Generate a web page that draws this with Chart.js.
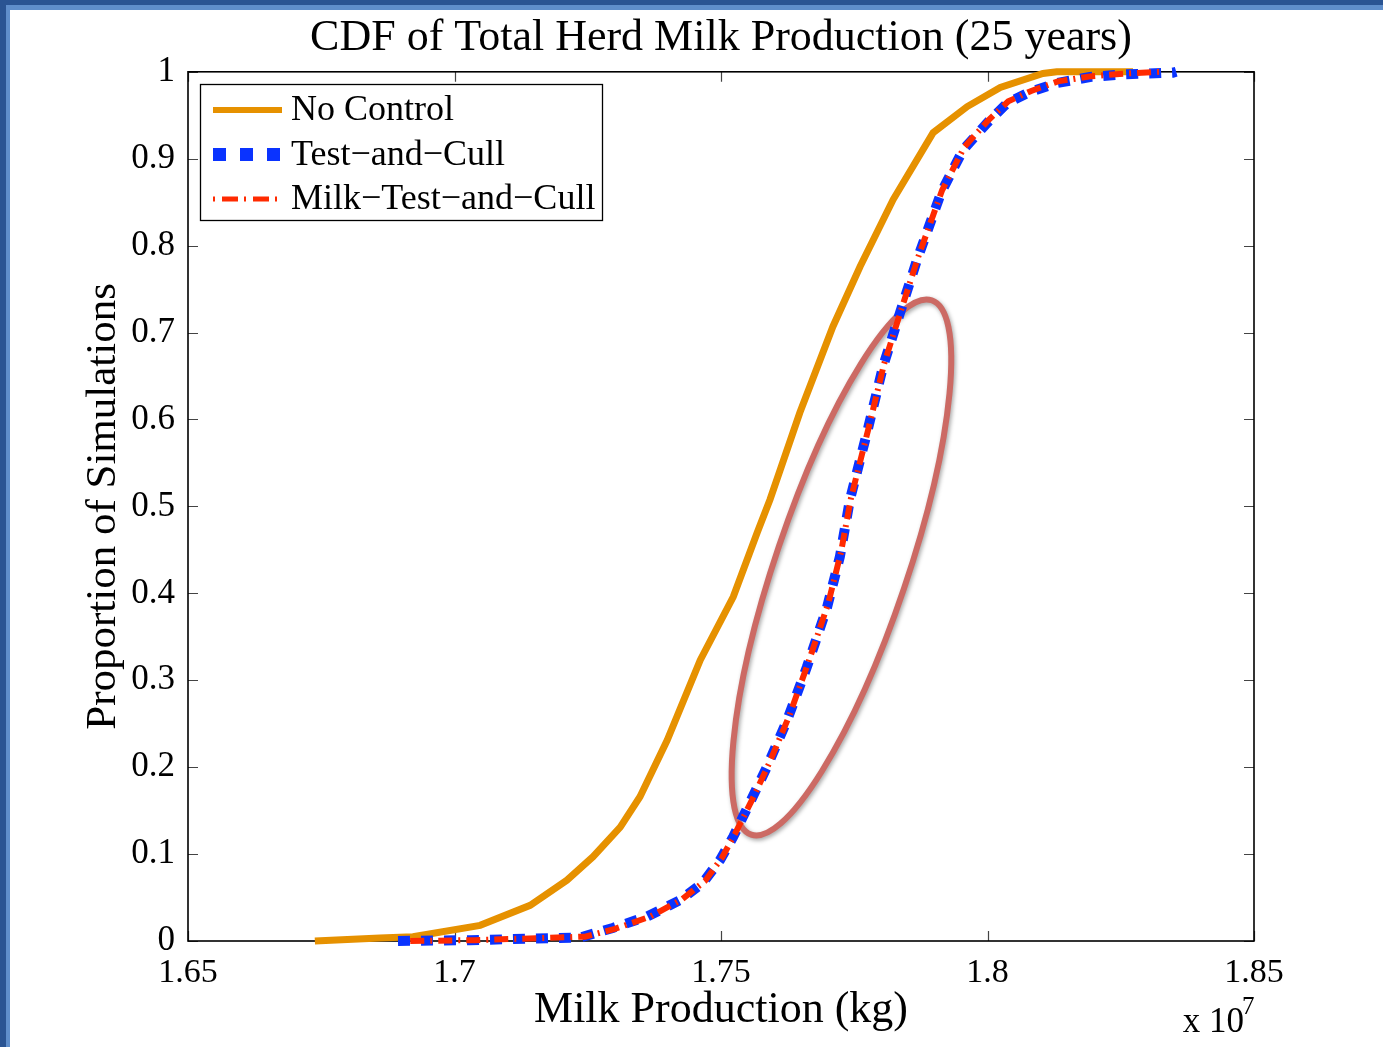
<!DOCTYPE html>
<html>
<head>
<meta charset="utf-8">
<title>CDF of Total Herd Milk Production</title>
<script src="https://cdn.jsdelivr.net/npm/chart.js@4.4.0/dist/chart.umd.min.js"></script>
<style>
  html, body { margin: 0; padding: 0; background: #fff; }
  #wrap { position: relative; width: 1383px; height: 1047px; overflow: hidden; background: #fff; }
  #chart { position: absolute; left: 0; top: 0; }
  .frame { position: absolute; left: 0; top: 0; width: 1500px; height: 1200px; box-sizing: border-box;
           border-left: 6px solid #2a5493; border-top: 5px solid #2a5493; pointer-events: none; }
  .frame-inner { position: absolute; left: 0; top: 0; width: 1500px; height: 1200px; box-sizing: border-box;
           border-left: 4px solid #5f8ecb; border-top: 5px solid #5f8ecb; }
</style>
</head>
<body>
<div id="wrap">
  <canvas id="chart" width="1383" height="1047"></canvas>
  <div class="frame"><div class="frame-inner"></div></div>
</div>
<script>
// x values are in units of 10^7 kg, y is the cumulative proportion
const noControlX = [1.6738, 1.6860, 1.6922, 1.7048, 1.7142, 1.7211, 1.7260, 1.7311, 1.7348, 1.7399,
                    1.7461, 1.7523, 1.7568, 1.7592, 1.7648, 1.7710, 1.7761, 1.7823, 1.7898, 1.7962,
                    1.8024, 1.8104, 1.8130, 1.8273];
const noControlY = [0.000, 0.0035, 0.005, 0.018, 0.041, 0.070, 0.097, 0.131, 0.166, 0.231,
                    0.323, 0.396, 0.470, 0.508, 0.608, 0.707, 0.776, 0.853, 0.930, 0.960,
                    0.982, 0.998, 1.000, 1.000];

const testCullX = [1.6894, 1.7029, 1.7236, 1.7297, 1.7361, 1.7423, 1.7466, 1.7498, 1.7523, 1.7554,
                   1.7586, 1.7624, 1.7661, 1.7699, 1.7723, 1.7742, 1.7774, 1.7804, 1.7836, 1.7868,
                   1.7913, 1.7954, 1.7999, 1.8037, 1.8080, 1.8130, 1.8192, 1.8254, 1.8348, 1.8354];
const testCullY = [0.000, 0.001, 0.004, 0.015, 0.028, 0.047, 0.067, 0.093, 0.120, 0.159,
                   0.200, 0.254, 0.315, 0.384, 0.442, 0.508, 0.585, 0.661, 0.723, 0.784,
                   0.861, 0.910, 0.941, 0.964, 0.977, 0.987, 0.994, 0.997, 0.999, 1.000];

const milkTestCullX = [1.6917, 1.7039, 1.7245, 1.7301, 1.7367, 1.7427, 1.7470, 1.7502, 1.7526, 1.7558,
                       1.7590, 1.7628, 1.7663, 1.7701, 1.7725, 1.7744, 1.7776, 1.7806, 1.7838, 1.7870,
                       1.7915, 1.7956, 1.8001, 1.8039, 1.8082, 1.8132, 1.8196, 1.8258, 1.8324];
const milkTestCullY = [0.000, 0.001, 0.005, 0.014, 0.028, 0.048, 0.069, 0.096, 0.123, 0.162,
                       0.204, 0.259, 0.319, 0.388, 0.447, 0.510, 0.588, 0.664, 0.726, 0.787,
                       0.864, 0.913, 0.944, 0.966, 0.978, 0.989, 0.995, 0.998, 1.000];

const seriesLabels = ['No Control', 'Test\u2212and\u2212Cull', 'Milk\u2212Test\u2212and\u2212Cull'];
const xTickValues = [1.65, 1.7, 1.75, 1.8, 1.85];
const xTickLabels = ['1.65', '1.7', '1.75', '1.8', '1.85'];
const yTickValues = [0, 0.1, 0.2, 0.3, 0.4, 0.5, 0.6, 0.7, 0.8, 0.9, 1];
const yTickLabels = ['0', '0.1', '0.2', '0.3', '0.4', '0.5', '0.6', '0.7', '0.8', '0.9', '1'];

const SERIF = '"Liberation Serif", "Times New Roman", serif';

const toPoints = (xs, ys) => xs.map((x, i) => ({ x: x, y: ys[i] }));

// box, inward ticks and the highlight ellipse go under the curves
const axesBox = {
  id: 'axesBox',
  beforeDatasetsDraw(chart, args, opts) {
    const { ctx, chartArea: a, scales } = chart;
    ctx.save();
    ctx.strokeStyle = '#444';
    ctx.lineWidth = 1.2;
    const tl = 10;
    xTickValues.forEach(v => {
      const px = Math.round(scales.x.getPixelForValue(v)) + 0.5;
      ctx.beginPath();
      ctx.moveTo(px, a.bottom); ctx.lineTo(px, a.bottom - tl);
      ctx.moveTo(px, a.top); ctx.lineTo(px, a.top + tl);
      ctx.stroke();
    });
    yTickValues.forEach(v => {
      const py = Math.round(scales.y.getPixelForValue(v)) + 0.5;
      ctx.beginPath();
      ctx.moveTo(a.left, py); ctx.lineTo(a.left + tl, py);
      ctx.moveTo(a.right, py); ctx.lineTo(a.right - tl, py);
      ctx.stroke();
    });
    ctx.strokeStyle = '#000';
    ctx.lineWidth = 1.6;
    ctx.strokeRect(a.left, a.top, a.right - a.left, a.bottom - a.top);

    // highlight ellipse
    const e = opts.ellipse;
    const cx = scales.x.getPixelForValue(e.x);
    const cy = scales.y.getPixelForValue(e.y);
    ctx.shadowColor = 'rgba(0,0,0,0.35)';
    ctx.shadowBlur = 4;
    ctx.shadowOffsetX = 1.5;
    ctx.shadowOffsetY = 2;
    ctx.strokeStyle = e.color;
    ctx.lineWidth = e.width;
    ctx.beginPath();
    ctx.ellipse(cx, cy, e.rx, e.ry, e.rotation, 0, Math.PI * 2);
    ctx.stroke();
    ctx.restore();
  }
};

// MATLAB-style boxed legend and the x 10^7 multiplier
const boxLegend = {
  id: 'boxLegend',
  afterDraw(chart, args, opts) {
    const { ctx } = chart;
    ctx.save();
    ctx.fillStyle = '#fff';
    ctx.fillRect(opts.left, opts.top, opts.width, opts.height);
    ctx.strokeStyle = '#000';
    ctx.lineWidth = 1.3;
    ctx.strokeRect(opts.left + 0.5, opts.top + 0.5, opts.width, opts.height);

    chart.data.datasets.forEach((ds, i) => {
      const y = opts.top + opts.firstRow + i * opts.rowGap;
      ctx.save();
      ctx.strokeStyle = ds.borderColor;
      ctx.lineWidth = opts.sampleWidths[i];
      ctx.lineCap = 'butt';
      ctx.setLineDash(opts.sampleDash[i]);
      ctx.beginPath();
      ctx.moveTo(opts.left + 13, y);
      ctx.lineTo(opts.left + 82, y);
      ctx.stroke();
      ctx.restore();
      ctx.fillStyle = '#000';
      ctx.font = '36px ' + SERIF;
      ctx.textBaseline = 'middle';
      ctx.textAlign = 'left';
      ctx.fillText(ds.label, opts.left + 91, y + 1);
    });

    // exponent label under the right end of the x axis
    const a = chart.chartArea;
    ctx.fillStyle = '#000';
    ctx.textBaseline = 'alphabetic';
    ctx.textAlign = 'right';
    ctx.font = '35px ' + SERIF;
    ctx.fillText('x 10', a.right - 10, a.bottom + 91);
    ctx.textAlign = 'left';
    ctx.font = '25px ' + SERIF;
    ctx.fillText('7', a.right - 12, a.bottom + 73);
    ctx.restore();
  }
};

new Chart(document.getElementById('chart'), {
  type: 'line',
  data: {
    datasets: [
      {
        label: seriesLabels[0],
        data: toPoints(noControlX, noControlY),
        borderColor: '#e69100',
        borderWidth: 7,
        pointRadius: 0,
        tension: 0,
        clip: 6,
        order: 3
      },
      {
        label: seriesLabels[1],
        data: toPoints(testCullX, testCullY),
        borderColor: '#0a33ff',
        borderWidth: 10,
        borderDash: [12, 11],
        borderCapStyle: 'butt',
        pointRadius: 0,
        tension: 0,
        clip: 6,
        order: 2
      },
      {
        label: seriesLabels[2],
        data: toPoints(milkTestCullX, milkTestCullY),
        borderColor: '#ff2a00',
        borderWidth: 6,
        borderDash: [14, 6, 2, 6],
        borderCapStyle: 'butt',
        pointRadius: 0,
        tension: 0,
        clip: 6,
        order: 1
      }
    ]
  },
  options: {
    responsive: false,
    animation: false,
    events: [],
    layout: { padding: { left: 0, right: 129, top: 0, bottom: 0 } },
    scales: {
      x: {
        type: 'linear',
        min: 1.65,
        max: 1.85,
        grid: { display: false },
        border: { display: false },
        afterBuildTicks: s => { s.ticks = xTickValues.map(v => ({ value: v })); },
        afterFit: s => { s.height = 106; },
        ticks: {
          color: '#000',
          font: { family: SERIF, size: 34 },
          padding: 4,
          maxRotation: 0,
          autoSkip: false,
          callback: (v, i) => xTickLabels[i]
        },
        title: {
          display: true,
          text: 'Milk Production (kg)',
          color: '#000',
          font: { family: SERIF, size: 44 },
          padding: { top: 0, bottom: 10 }
        }
      },
      y: {
        type: 'linear',
        min: 0,
        max: 1,
        grid: { display: false },
        border: { display: false },
        afterBuildTicks: s => { s.ticks = yTickValues.map(v => ({ value: v })); },
        afterFit: s => { s.width = 188; },
        ticks: {
          color: '#000',
          font: { family: SERIF, size: 35 },
          padding: 5,
          autoSkip: false,
          callback: (v, i) => yTickLabels[i]
        },
        title: {
          display: true,
          text: 'Proportion of Simulations',
          color: '#000',
          font: { family: SERIF, size: 43 },
          padding: { top: 78, bottom: 0 }
        }
      }
    },
    plugins: {
      legend: { display: false },
      tooltip: { enabled: false },
      title: {
        display: true,
        fullSize: false,
        text: 'CDF of Total Herd Milk Production (25 years)',
        color: '#000',
        font: { family: SERIF, size: 44, weight: 'normal' },
        padding: { top: 12, bottom: 7 }
      },
      axesBox: {
        ellipse: { x: 1.7726, y: 0.4298, rx: 282, ry: 66, rotation: -1.245, color: '#cc6a64', width: 6 }
      },
      boxLegend: {
        left: 200, top: 84, width: 402, height: 136,
        firstRow: 26, rowGap: 44.5,
        sampleWidths: [6, 13, 5],
        sampleDash: [[], [13, 14], [2, 7, 16, 6]]
      }
    }
  },
  plugins: [axesBox, boxLegend]
});
</script>
</body>
</html>
